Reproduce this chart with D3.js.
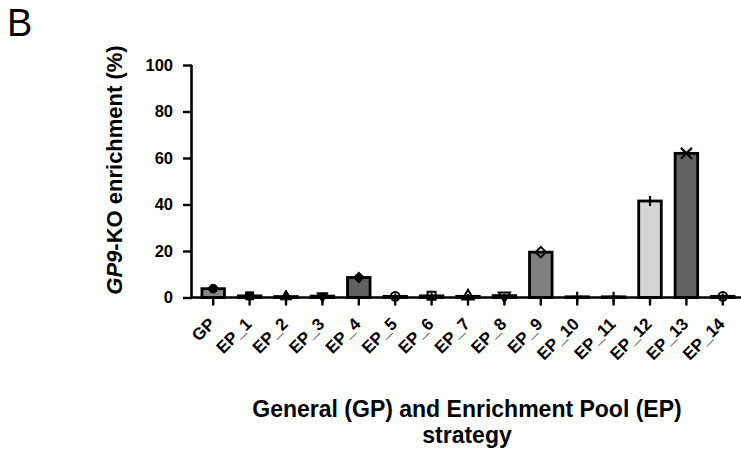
<!DOCTYPE html>
<html>
<head>
<meta charset="utf-8">
<script src="https://cdn.jsdelivr.net/npm/d3@7"></script>
<style>
  html, body { margin: 0; padding: 0; background: #fff; }
  svg { display: block; font-family: "Liberation Sans", Arial, sans-serif; }
</style>
</head>
<body>
<svg id="chart" width="741" height="450"></svg>
<script>
// Enrichment of GP9-KO cells per pool strategy
const categories = ["GP", "EP_1", "EP_2", "EP_3", "EP_4", "EP_5", "EP_6", "EP_7",
                    "EP_8", "EP_9", "EP_10", "EP_11", "EP_12", "EP_13", "EP_14"];
const values = [3.8, 0.7, 0.4, 0.6, 8.6, 0.5, 0.7, 0.5, 0.8, 19.5, 0.3, 0.3, 41.5, 62, 0.5];
// spread shown as a vertical bar through each point
const spreads = [0, 0, 0, 0, 0, 1.2, 1.2, 1.0, 0.8, 0, 0.4, 0.4, 0, 0, 1.2];
const barFills = ["#888888", "#555555", "#8a8a8a", "#a8a8a8", "#606060", "#cfcfcf", "#8a8a8a",
                  "#a8a8a8", "#cfcfcf", "#808080", "#9a9a9a", "#bcbcbc", "#d4d4d4", "#626262", "#aaaaaa"];
// marker shape per group: [shape, filled]
const markers = [["circle", true], ["square", true], ["triUp", true], ["triDown", true],
                 ["diamond", true], ["circle", false], ["square", false], ["triUp", false],
                 ["triDown", false], ["diamond", false], ["plus", false], ["plus", false],
                 ["plus", false], ["times", false], ["circle", false]];
const yTicks = [0, 20, 40, 60, 80, 100];

const svg = d3.select("#chart");

const y = d3.scaleLinear().domain([0, 100]).range([297.5, 65]);
const x = d3.scaleBand().domain(categories).range([195, 741]).paddingInner(0.38).paddingOuter(0.19);
const cxOf = c => x(c) + x.bandwidth() / 2;

// panel letter
svg.append("text").attr("x", 7).attr("y", 36)
  .attr("font-size", 38).attr("fill", "#000").text("B");

// bars
svg.append("g").selectAll("rect.bar").data(categories).join("rect")
  .attr("class", "bar")
  .attr("x", d => x(d))
  .attr("width", x.bandwidth())
  .attr("y", (d, i) => y(values[i]))
  .attr("height", (d, i) => y(0) - y(values[i]))
  .attr("fill", (d, i) => barFills[i])
  .attr("stroke", "#000")
  .attr("stroke-width", 2.8);

// y axis
const yAxis = d3.axisLeft(y).tickValues(yTicks).tickSize(9).tickPadding(10);
const ya = svg.append("g").attr("transform", "translate(192,0)").call(yAxis);
ya.select(".domain").attr("stroke-width", 2.6).attr("d", `M-0.5,${y(100)}V${y(0)}`);
ya.selectAll(".tick line").attr("stroke-width", 2.4);
ya.selectAll(".tick text").attr("font-size", 16.5).attr("font-weight", "bold")
  .attr("font-family", "'Liberation Sans', Arial, sans-serif").attr("fill", "#000");

// x axis
const xAxis = d3.axisBottom(x).tickSize(8).tickFormat("");
const xa = svg.append("g").attr("transform", `translate(0,${y(0)})`).call(xAxis);
xa.select(".domain").attr("stroke-width", 2.6).attr("d", "M190.7,0H741");
xa.selectAll(".tick line").attr("stroke-width", 2.4);

// rotated category labels
svg.append("g").selectAll("text").data(categories).join("text")
  .attr("transform", d => `translate(${cxOf(d) + 3},325) rotate(-45)`)
  .attr("text-anchor", "end")
  .attr("font-size", 17).attr("font-weight", "bold").attr("fill", "#000")
  .text(d => d);

// spread bars
svg.append("g").selectAll("line").data(categories.filter((c, i) => spreads[i] > 0)).join("line")
  .attr("x1", cxOf).attr("x2", cxOf)
  .attr("y1", d => y(values[categories.indexOf(d)] + spreads[categories.indexOf(d)]))
  .attr("y2", d => y(Math.max(0, values[categories.indexOf(d)] - spreads[categories.indexOf(d)])))
  .attr("stroke", "#000").attr("stroke-width", 2);

// markers on bar tops
const mk = svg.append("g");
categories.forEach((c, i) => {
  const cy = y(values[i]);
  const [shape, filled] = markers[i];
  const fill = filled ? "#000" : "none";
  const sw = filled ? 1 : 2;
  const gg = mk.append("g").attr("transform", `translate(${cxOf(c)},${cy})`);
  const path = (sym, size) => gg.append("path").attr("d", d3.symbol(sym, size)())
    .attr("fill", fill).attr("stroke", "#000").attr("stroke-width", sw);
  if (shape === "circle") path(d3.symbolCircle, 60);
  else if (shape === "square") path(d3.symbolSquare, 64);
  else if (shape === "triUp") path(d3.symbolTriangle, 55);
  else if (shape === "triDown") path(d3.symbolTriangle, 55).attr("transform", "rotate(180)");
  else if (shape === "diamond") path(d3.symbolSquare, 55).attr("transform", "rotate(45)");
  else if (shape === "plus") path(d3.symbolPlus, 36).attr("stroke-width", 2.2);
  else if (shape === "times") path(d3.symbolTimes, 80).attr("stroke-width", 2.2);
});

// y axis title
const yt = svg.append("text")
  .attr("transform", "translate(122,170) rotate(-90)")
  .attr("text-anchor", "middle")
  .attr("font-size", 22).attr("font-weight", "bold").attr("fill", "#000");
yt.append("tspan").attr("font-style", "italic").text("GP9");
yt.append("tspan").text("-KO enrichment (%)");

// x axis title
const xt = svg.append("text").attr("text-anchor", "middle")
  .attr("font-size", 23).attr("font-weight", "bold").attr("fill", "#000");
xt.append("tspan").attr("x", 467).attr("y", 417).text("General (GP) and Enrichment Pool (EP)");
xt.append("tspan").attr("x", 467).attr("y", 443).text("strategy");
</script>
</body>
</html>
